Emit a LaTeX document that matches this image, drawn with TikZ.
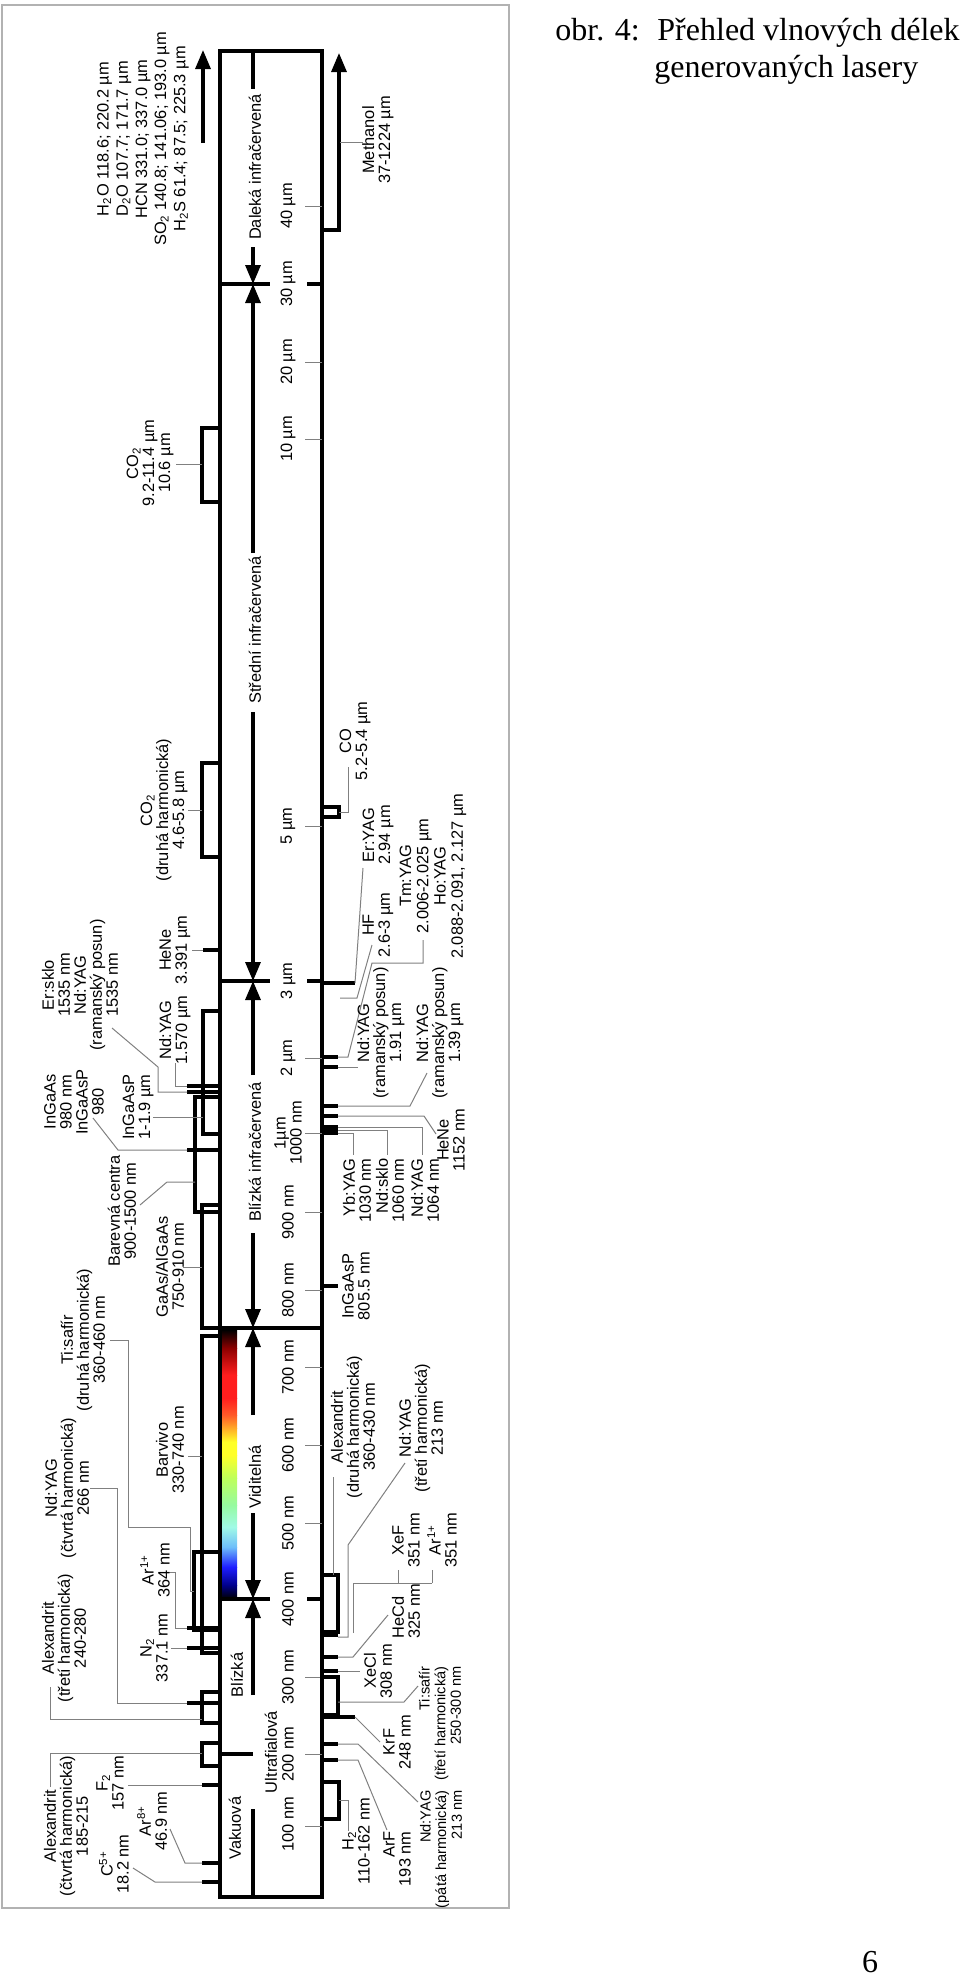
\documentclass[tikz,border=0pt]{standalone}
\usepackage{fontspec}
\setmainfont{Liberation Serif}
\newfontfamily\arialfont{Liberation Sans}
\usetikzlibrary{arrows.meta}
\definecolor{sp1}{RGB}{140,0,0}
\definecolor{sp2}{RGB}{255,30,30}
\definecolor{sp3}{RGB}{255,90,40}
\definecolor{sp4}{RGB}{255,170,40}
\definecolor{sp5}{RGB}{255,255,40}
\definecolor{sp6}{RGB}{190,255,90}
\definecolor{sp7}{RGB}{150,250,160}
\definecolor{sp8}{RGB}{160,250,230}
\definecolor{sp9}{RGB}{110,190,250}
\definecolor{sp10}{RGB}{30,30,255}
\definecolor{sp11}{RGB}{0,0,140}
\begin{document}
\begin{tikzpicture}[x=0.5pt, y=-0.5pt,
	txt/.style={rotate=90, align=center, inner sep=0pt, font=\arialfont\fontsize{8.2}{8}\selectfont},
	small/.style={font=\arialfont\fontsize{7.3}{7.8}\selectfont},
	frame/.style={line width=1.6pt},
	las/.style={line width=2pt},
	lead/.style={gray, line width=0.5pt},
	tip/.style={-{Triangle[length=9.5pt,width=7.5pt]}, line width=1.6pt}]
	\useasboundingbox (0,0) rectangle (960,1977);
	\draw[gray!60, line width=1pt] (2,5) rectangle (509,1908);
	\node[anchor=base west, inner sep=0pt, font=\fontsize{16}{19}\selectfont] (cap1) at (555,40) {obr. 4:\hspace{0.55em}Přehled vlnových délek};
	\node[anchor=base west, inner sep=0pt, font=\fontsize{16}{19}\selectfont] (cap2) at (654,77) {generovaných lasery};
	\node[anchor=base, inner sep=0pt, font=\fontsize{16}{19}\selectfont] (page) at (870,1972) {6};
	\foreach \ya/\ca/\yb/\cb in {1330/black/1348/sp1, 1348/sp1/1375/sp2, 1375/sp2/1398/sp2, 1398/sp2/1415/sp3, 1415/sp3/1428/sp4, 1428/sp4/1442/sp5, 1442/sp5/1455/sp5, 1455/sp5/1478/sp6, 1478/sp6/1505/sp7, 1505/sp7/1527/sp8, 1527/sp8/1547/sp9, 1547/sp9/1567/sp10, 1567/sp10/1585/sp11, 1585/sp11/1599/black}
		\shade[top color=\ca, bottom color=\cb] (221,\ya) rectangle (237,\yb);
	\draw[frame] (220,51) rectangle (322,1897);
	\draw[frame] (220,284) -- (270,284) (307,284) -- (322,284);
	\draw[frame] (220,981) -- (270,981) (307,981) -- (322,981);
	\draw[frame] (220,1328) -- (322,1328);
	\draw[frame] (220,1599) -- (270,1599) (307,1599) -- (322,1599);
	\draw[frame] (220,1754) -- (253,1754);
	\draw[frame] (253,1809) -- (253,1897);
	\draw[frame] (253,51) -- (253,89);
	\draw[tip] (253,247) -- (253,284);
	\draw[tip] (253,553) -- (253,284);
	\draw[tip] (253,712) -- (253,981);
	\draw[tip] (253,1075) -- (253,981);
	\draw[tip] (253,1233) -- (253,1328);
	\draw[tip] (253,1415) -- (253,1328);
	\draw[tip] (253,1513) -- (253,1599);
	\draw[tip] (253,1695) -- (253,1599);
	\node[txt] (daleka) at (255,167) {Daleká infračervená};
	\node[txt] (stredni) at (255,630) {Střední infračervená};
	\node[txt] (blizkair) at (255,1152) {Blízká infračervená};
	\node[txt] (viditelna) at (255,1477) {Viditelná};
	\node[txt] (blizkauv) at (237,1675) {Blízká};
	\node[txt] (ultra) at (271,1752) {Ultrafialová};
	\node[txt] (vakuova) at (235,1828) {Vakuová};
	\foreach \yy in {206,362,439,826,1058,1133,1212,1290,1367,1445,1523,1677,1754,1826}
		\draw[lead] (305,\yy) -- (322,\yy);
	\node[txt] (s40) at (288,206) {40 µm};
	\node[txt] (s30) at (288,284) {30 µm};
	\node[txt] (s20) at (288,362) {20 µm};
	\node[txt] (s10) at (288,439) {10 µm};
	\node[txt] (s5) at (288,826) {5 µm};
	\node[txt] (s3) at (288,981) {3 µm};
	\node[txt] (s2) at (288,1058) {2 µm};
	\node[txt] (s1) at (288,1133) {1µm\\1000 nm};
	\node[txt] (s900) at (288,1212) {900 nm};
	\node[txt] (s800) at (288,1290) {800 nm};
	\node[txt] (s700) at (288,1367) {700 nm};
	\node[txt] (s600) at (288,1445) {600 nm};
	\node[txt] (s500) at (288,1523) {500 nm};
	\node[txt] (s400) at (288,1599) {400 nm};
	\node[txt] (s300) at (288,1677) {300 nm};
	\node[txt] (s200) at (288,1754) {200 nm};
	\node[txt] (s100) at (288,1824) {100 nm};
	\draw[tip] (203,143) -- (203,50);
	\node[txt, font=\arialfont\fontsize{8.2}{9.6}\selectfont] (farleft) at (143,139) {H\textsubscript{2}O 118.6; 220.2 µm\\D\textsubscript{2}O 107.7; 171.7 µm\\HCN 331.0; 337.0 µm\\SO\textsubscript{2} 140.8; 141.06; 193.0 µm\\H\textsubscript{2}S 61.4; 87.5; 225.3 µm};
	\draw[frame] (202,428) rectangle (220,502);
	\draw[lead] (176,464) -- (202,464);
	\node[txt] (co2) at (150,463) {CO\textsubscript{2}\\9.2-11.4 µm\\10.6 µm};
	\draw[frame] (202,763) rectangle (220,857);
	\draw[lead] (188,810) -- (202,810);
	\node[txt] (co2h) at (164,810) {CO\textsubscript{2}\\(druhá harmonická)\\4.6-5.8 µm};
	\draw[las] (203,950) -- (220,950);
	\draw[lead] (192,950) -- (203,950);
	\node[txt] (hene) at (175,950) {HeNe\\3.391 µm};
	\draw[frame] (203,1011) rectangle (220,1134);
	\draw[frame] (195,1097) rectangle (220,1212);
	\draw[las] (187,1086) -- (220,1086);
	\draw[las] (187,1092) -- (220,1092);
	\draw[lead] (175,1063) -- (175,1086) -- (187,1086);
	\node[txt] (nd1570) at (175,1030) {Nd:YAG\\1.570 µm};
	\draw[lead] (112,1028) -- (158,1067) -- (158,1092) -- (187,1092);
	\node[txt] (ersklo) at (80,985) {Er:sklo\\1535 nm\\Nd:YAG\\(ramanský posun)\\1535 nm};
	\draw[las] (187,1150) -- (220,1150);
	\draw[lead] (93,1118) -- (118,1150) -- (187,1150);
	\node[txt] (ingaas) at (74,1102) {InGaAs\\980 nm\\InGaAsP\\980};
	\draw[lead] (153,1117) -- (203,1117);
	\node[txt] (ingaasp) at (138,1107) {InGaAsP\\1-1.9 µm};
	\draw[lead] (195,1182) -- (167,1182) -- (140,1205);
	\node[txt] (barcen) at (122,1211) {Barevná centra\\900-1500 nm};
	\draw[frame] (202,1205) rectangle (220,1328);
	\draw[lead] (183,1267) -- (202,1267);
	\node[txt] (gaas) at (170,1267) {GaAs/AlGaAs\\750-910 nm};
	\draw[frame] (202,1336) rectangle (220,1653);
	\draw[lead] (188,1456) -- (202,1456);
	\node[txt] (barvivo) at (170,1450) {Barvivo\\330-740 nm};
	\draw[frame] (194,1552) rectangle (220,1630);
	\draw[lead] (110,1340) -- (128,1340) -- (128,1527) -- (190,1527) -- (190,1591) -- (194,1591);
	\node[txt] (tisaf2) at (83,1340) {Ti:safír\\(druhá harmonická)\\360-460 nm};
	\draw[las] (187,1628) -- (220,1628);
	\draw[lead] (168,1572) -- (175,1572) -- (175,1628) -- (187,1628);
	\node[txt] (ar364) at (155,1570) {Ar\textsuperscript{1+}\\364 nm};
	\draw[las] (187,1648) -- (220,1648);
	\draw[lead] (171,1648) -- (187,1648);
	\node[txt] (n2) at (154,1648) {N\textsubscript{2}\\337.1 nm};
	\draw[las] (187,1703) -- (220,1703);
	\draw[lead] (90,1488) -- (117,1488) -- (117,1703) -- (187,1703);
	\node[txt] (nd266) at (67,1488) {Nd:YAG\\(čtvrtá harmonická)\\266 nm};
	\draw[frame] (202,1692) rectangle (220,1723);
	\draw[lead] (50,1687) -- (50,1719) -- (202,1719);
	\node[txt] (alex3) at (64,1638) {Alexandrit\\(třetí harmonická)\\240-280};
	\draw[frame] (202,1743) rectangle (220,1766);
	\draw[lead] (50,1787) -- (50,1753) -- (202,1753);
	\node[txt] (alex4) at (66,1826) {Alexandrit\\(čtvrtá harmonická)\\185-215};
	\draw[las] (202,1785) -- (220,1785);
	\draw[lead] (128,1785) -- (202,1785);
	\node[txt] (f2) at (110,1783) {F\textsubscript{2}\\157 nm};
	\draw[las] (202,1863) -- (220,1863);
	\draw[lead] (170,1829) -- (185,1863) -- (202,1863);
	\node[txt] (ar8) at (152,1821) {Ar\textsuperscript{8+}\\46.9 nm};
	\draw[las] (202,1882) -- (220,1882);
	\draw[lead] (133,1868) -- (155,1882) -- (202,1882);
	\node[txt] (c5) at (114,1864) {C\textsuperscript{5+}\\18.2 nm};
	\draw[tip] (322,230) -- (339,230) -- (339,53);
	\draw[lead] (340,142) -- (363,142);
	\node[txt] (methanol) at (378,140) {Methanol\\37-1224 µm};
	\draw[frame] (322,807) rectangle (339,817);
	\draw[lead] (339,812) -- (348,812) -- (348,767);
	\node[txt] (co) at (355,741) {CO\\5.2-5.4 µm};
	\draw[las] (322,983) -- (355,983);
	\draw[lead] (355,983) -- (363,868);
	\node[txt] (eryag) at (378,835) {Er:YAG\\2.94 µm};
	\draw[lead] (340,998) -- (357,998) -- (372,945);
	\node[txt] (hf) at (378,925) {HF\\2.6-3 µm};
	\draw[las] (322,1057) -- (338,1057);
	\draw[lead] (423,940) -- (423,963) -- (372,963) -- (348,1057) -- (338,1057);
	\node[txt, font=\arialfont\fontsize{8.2}{8.6}\selectfont] (tmho) at (433,876) {Tm:YAG\\2.006-2.025 µm\\Ho:YAG\\2.088-2.091, 2.127 µm};
	\draw[las] (322,1067) -- (338,1067);
	\draw[lead] (338,1067) -- (358,1067);
	\node[txt] (ndr191) at (381,1033) {Nd:YAG\\(ramanský posun)\\1.91 µm};
	\draw[las] (322,1106) -- (338,1106);
	\draw[lead] (338,1106) -- (410,1106) -- (427,1073);
	\node[txt] (ndr139) at (440,1033) {Nd:YAG\\(ramanský posun)\\1.39 µm};
	\draw[las] (322,1116) -- (338,1116);
	\draw[lead] (338,1116) -- (424,1116) -- (436,1134);
	\node[txt] (hene1152) at (451,1140) {HeNe\\1152 nm};
	\draw[las] (322,1127) -- (338,1127) (322,1130) -- (338,1130) (322,1133) -- (338,1133);
	\draw[lead] (338,1127) -- (422,1127) -- (422,1155);
	\draw[lead] (338,1130) -- (387,1130) -- (387,1155);
	\draw[lead] (338,1133) -- (353,1133) -- (353,1155);
	\node[txt, align=right, anchor=east] (ybyag) at (357,1158) {Yb:YAG\\1030 nm};
	\node[txt, align=right, anchor=east] (ndsklo) at (390,1158) {Nd:sklo\\1060 nm};
	\node[txt, align=right, anchor=east] (nd1064) at (425,1158) {Nd:YAG\\1064 nm};
	\draw[las] (322,1286) -- (338,1286);
	\node[txt] (ingaasp805) at (356,1286) {InGaAsP\\805.5 nm};
	\draw[frame] (322,1575) rectangle (338,1632);
	\draw[lead] (333,1575) -- (333,1477);
	\node[txt] (alex2) at (353,1427) {Alexandrit\\(druhá harmonická)\\360-430 nm};
	\draw[las] (322,1635) -- (338,1635);
	\draw[lead] (338,1637) -- (348,1637) -- (348,1545) -- (405,1463);
	\node[txt] (nd3) at (421,1428) {Nd:YAG\\(třetí harmonická)\\213 nm};
	\draw[lead] (353,1633) -- (353,1583) -- (432,1583) (398,1583) -- (398,1570) (432,1583) -- (432,1570);
	\node[txt] (xef) at (406,1540) {XeF\\351 nm};
	\node[txt] (ar351) at (442,1540) {Ar\textsuperscript{1+}\\351 nm};
	\draw[las] (322,1657) -- (338,1657);
	\draw[lead] (338,1657) -- (353,1657) -- (388,1615);
	\node[txt, align=left, anchor=west] (hecd) at (406,1639) {HeCd\\325 nm};
	\draw[las] (322,1671) -- (338,1671);
	\draw[lead] (338,1671) -- (360,1671);
	\node[txt] (xecl) at (378,1671) {XeCl\\308 nm};
	\draw[frame] (322,1677) rectangle (338,1715);
	\draw[lead] (338,1702) -- (404,1702) -- (418,1686);
	\node[txt, small, align=right, anchor=east] (tisaf3) at (440,1666) {Ti:safír\\(třetí harmonická)\\250-300 nm};
	\draw[las] (322,1717) -- (355,1717);
	\draw[lead] (355,1717) -- (380,1742);
	\node[txt] (krf) at (397,1742) {KrF\\248 nm};
	\draw[las] (322,1744) -- (338,1744);
	\draw[lead] (338,1744) -- (358,1744) -- (418,1802);
	\node[txt, small, align=right, anchor=east] (nd5) at (441,1790) {Nd:YAG\\(pátá harmonická)\\213 nm};
	\draw[las] (322,1760) -- (338,1760);
	\draw[lead] (338,1760) -- (358,1760) -- (387,1830);
	\node[txt, align=right, anchor=east] (arf) at (397,1831) {ArF\\193 nm};
	\draw[frame] (322,1782) rectangle (339,1819);
	\draw[lead] (339,1800) -- (348,1800) -- (348,1831);
	\node[txt] (h2) at (356,1841) {H\textsubscript{2}\\110-162 nm};
\end{tikzpicture}
\end{document}
